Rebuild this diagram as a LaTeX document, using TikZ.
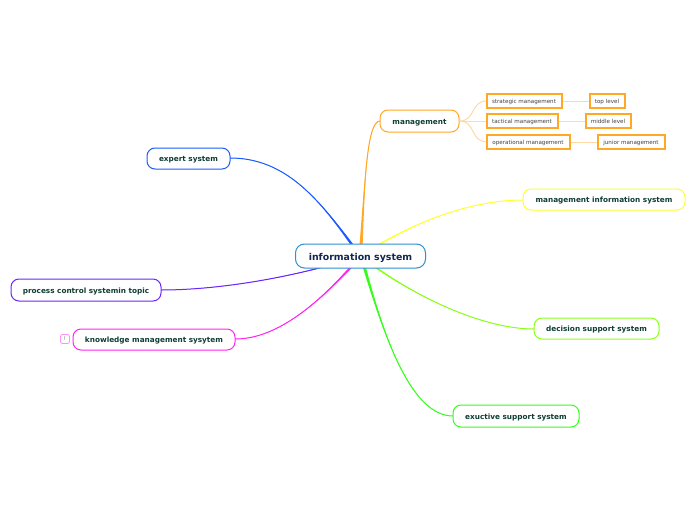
\documentclass[tikz,border=0pt]{standalone}
\usepackage{fontspec}
\setmainfont{DejaVu Sans}
\usetikzlibrary{calc}
\definecolor{txtg}{HTML}{0F3D33}
\definecolor{cblue}{HTML}{1A5CFF}
\definecolor{cyel}{HTML}{FFFF33}
\definecolor{corg}{HTML}{FFA826}
\definecolor{cpur}{HTML}{6A26FF}
\definecolor{cmag}{HTML}{FF26F0}
\definecolor{clim}{HTML}{8CFF1A}
\definecolor{cgrn}{HTML}{33FF1A}
\definecolor{corgl}{HTML}{FFD9A6}
\definecolor{croot}{HTML}{2F8FD0}
\definecolor{troot}{HTML}{14264F}
\tikzset{
  x=1pt,y=-1pt,
  boxbase/.style={draw,fill=white,rounded corners=8pt,line width=1pt,inner sep=0pt,text=txtg,text height=6pt,text depth=0pt,font=\bfseries\fontsize{7.3}{9}\selectfont},
  rootbox/.style={boxbase,draw=croot,text=troot,rounded corners=9pt,text height=8.5pt,font=\bfseries\fontsize{9.4}{11}\selectfont},
  subbox/.style={draw=corg,fill=white,line width=1.2pt,inner sep=0pt,text=black!75,text height=5pt,text depth=0pt,font=\fontsize{5.6}{7}\selectfont},
  lineo/.style={corgl,line width=1pt},
  iconbox/.style={draw=cmag!50,fill=white,rounded corners=2pt,line width=0.8pt,minimum width=9pt,minimum height=9pt,inner sep=0pt,text=black!60,font=\fontsize{5}{6}\selectfont},
}
\newcommand{\taper}[5]{%
  \fill[#1] ($(#2)+(-1.6,0)$) .. controls (#3) and (#4) .. (#5) .. controls (#4) and (#3) .. ($(#2)+(1.6,0)$) -- cycle;
  \draw[#1,line width=1pt] (#2) .. controls (#3) and (#4) .. (#5);}
\begin{document}
\begin{tikzpicture}
\useasboundingbox (0,0) rectangle (696,520);
\fill[white] (0,0) rectangle (696,520);
\coordinate (rA) at (361,246);
\coordinate (rB) at (353,246);
\coordinate (rC) at (323,267);
\coordinate (rD) at (352,266);
\coordinate (rE) at (380,244);
\coordinate (rF) at (375,267);
\coordinate (rG) at (364,266);
\coordinate (mg) at (380,121);
\coordinate (ex) at (230,158);
\coordinate (pc) at (161,290);
\coordinate (km) at (235,339);
\coordinate (mi) at (523,200);
\coordinate (ds) at (534,329);
\coordinate (es) at (453,416);
\taper{corg}{rA}{365,180}{367,121}{mg}
\taper{cblue}{rB}{318,198}{285,158}{ex}
\taper{cpur}{rC}{270,281}{210,290}{pc}
\taper{cmag}{rD}{310,312}{272,339}{km}
\taper{cyel}{rE}{430,215}{480,200}{mi}
\taper{clim}{rF}{430,305}{490,329}{ds}
\taper{cgrn}{rG}{385,340}{412,416}{es}
\node[rootbox,minimum width=130pt,minimum height=24pt] (root) at (360.5,256) {information system};
\node[boxbase,draw=corg,minimum width=79pt,minimum height=22pt] (n1) at (419.5,121) {management};
\node[boxbase,draw=cblue,minimum width=83pt,minimum height=21pt] (n2) at (188.5,158.5) {expert system};
\node[boxbase,draw=cpur,minimum width=150pt,minimum height=22pt] (n3) at (86,290) {process control systemin topic};
\node[boxbase,draw=cmag,minimum width=162pt,minimum height=21pt] (n4) at (154,339.5) {knowledge management sysytem};
\node[boxbase,draw=cyel,minimum width=162pt,minimum height=21pt] (n5) at (604,199.5) {management information system};
\node[boxbase,draw=clim,minimum width=125pt,minimum height=21pt] (n6) at (596.5,328.5) {decision support system};
\node[boxbase,draw=cgrn,minimum width=126pt,minimum height=22pt] (n7) at (516,416) {exuctive support system};
\draw[lineo] (n1.east) .. controls (476,121) and (470,101) .. (487,101) coordinate (a1w);
\draw[lineo] (n1.east) -- (487,121) coordinate (b1w);
\draw[lineo] (n1.east) .. controls (476,121) and (470,142) .. (487,142) coordinate (c1w);
\node[subbox,minimum width=75pt,minimum height=14pt] (a1) at (524.5,101) {\hspace{-1pt}strategic management};
\node[subbox,minimum width=35pt,minimum height=14pt] (a2) at (607.5,101) {\hspace{-1pt}top level};
\node[subbox,minimum width=71pt,minimum height=14pt] (b1) at (522.5,121) {\hspace{-1pt}tactical management};
\node[subbox,minimum width=45pt,minimum height=14pt] (b2) at (608.5,121) {\hspace{-1pt}middle level};
\node[subbox,minimum width=83pt,minimum height=14pt] (c1) at (528.5,142) {\hspace{-1pt}operational management};
\node[subbox,minimum width=67pt,minimum height=14pt] (c2) at (631.5,142) {\hspace{-1pt}junior management};
\node[iconbox] (ic) at (65,339) {!};
\draw[lineo] (a1) -- (a2);
\draw[lineo] (b1) -- (b2);
\draw[lineo] (c1) -- (c2);
\end{tikzpicture}
\end{document}
